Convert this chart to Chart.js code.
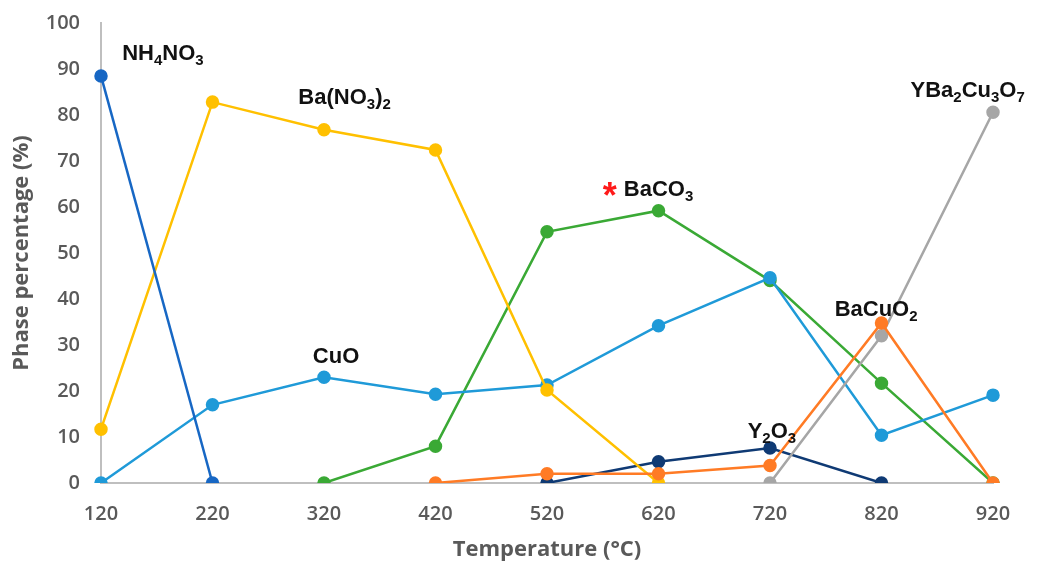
<!DOCTYPE html>
<html>
<head>
<meta charset="utf-8">
<script src="https://cdn.jsdelivr.net/npm/chart.js@4"></script>
<style>
  body { margin: 0; background: #fff; }
  #wrap { width: 1052px; height: 563px; }
</style>
</head>
<body>
<div id="wrap"><canvas id="phaseChart" width="1052" height="563"></canvas></div>
<script>
// temperatures (°C)
const temps = ['120', '220', '320', '420', '520', '620', '720', '820', '920'];
const yTicks = [0, 10, 20, 30, 40, 50, 60, 70, 80, 90, 100];

// phase percentages (%), null = phase not present
const nh4no3   = [88.5, 0, null, null, null, null, null, null, null];
const bano32   = [11.7, 82.8, 76.8, 72.4, 20.2, 0, null, null, null];
const cuo      = [0, 17, 23, 19.3, 21.3, 34.2, 44.6, 10.4, 19.1];
const baco3    = [null, null, 0, 8, 54.6, 59.2, 44, 21.7, 0];
const bacuo2   = [null, null, null, 0, 2, 2, 3.8, 34.8, 0];
const y2o3     = [null, null, null, null, 0, 4.6, 7.6, 0, null];
const ybco     = [null, null, null, null, null, null, 0, 32, 80.6];

// phase labels: text parts [string, subscript?], anchored at (temperature, percent)
const phaseLabels = [
  { parts: [['NH', 0], ['4', 1], ['NO', 0], ['3', 1]], t: 139, p: 92 },
  { parts: [['Ba(NO', 0], ['3', 1], [')', 0], ['2', 1]], t: 297, p: 82.4 },
  { parts: [['CuO', 0]], t: 310, p: 26 },
  { parts: [['BaCO', 0], ['3', 1]], t: 570, p: 62.5, star: true },
  { parts: [['BaCuO', 0], ['2', 1]], t: 778, p: 36.3 },
  { parts: [['Y', 0], ['2', 1], ['O', 0], ['3', 1]], t: 700, p: 9.8 },
  { parts: [['YBa', 0], ['2', 1], ['Cu', 0], ['3', 1], ['O', 0], ['7', 1]], t: 846, p: 84 }
];

function series(label, data, color) {
  return {
    label, data,
    borderColor: color, backgroundColor: color,
    pointBackgroundColor: color, pointBorderColor: color,
    borderWidth: 2.5, pointRadius: 5.5, pointHoverRadius: 5.5,
    tension: 0, spanGaps: false
  };
}

const labelPlugin = {
  id: 'phaseLabels',
  afterDatasetsDraw(chart) {
    const ctx = chart.ctx;
    const xs = chart.scales.x, ys = chart.scales.y;
    const big = 'bold 22px "Liberation Sans", Arial, sans-serif';
    const small = 'bold 15px "Liberation Sans", Arial, sans-serif';
    ctx.save();
    ctx.fillStyle = '#111';
    ctx.textBaseline = 'alphabetic';
    ctx.textAlign = 'left';
    phaseLabels.forEach(l => {
      let x = xs.getPixelForValue((l.t - 120) / 100);
      const y = ys.getPixelForValue(l.p);
      if (l.star) {
        ctx.fillStyle = '#ff1a1a';
        ctx.font = 'bold 36px "Liberation Sans", Arial, sans-serif';
        ctx.fillText('*', x, y + 12);
        x += ctx.measureText('*').width + 7;
        ctx.fillStyle = '#111';
      }
      l.parts.forEach(([s, sub]) => {
        ctx.font = sub ? small : big;
        ctx.fillText(s, x, sub ? y + 5 : y);
        x += ctx.measureText(s).width;
      });
    });
    ctx.restore();
  }
};

const tickFont = { family: '"Open Sans", "Liberation Sans", sans-serif', size: 20, weight: '600' };
const titleFont = { family: '"Open Sans", "Liberation Sans", sans-serif', size: 22, weight: 'bold' };

new Chart(document.getElementById('phaseChart').getContext('2d'), {
  type: 'line',
  data: {
    labels: temps,
    datasets: [
      series('NH4NO3', nh4no3, '#1767c4'),
      series('BaCuO2', bacuo2, '#ff7b25'),
      series('YBa2Cu3O7', ybco, '#a6a6a6'),
      series('Ba(NO3)2', bano32, '#ffc000'),
      series('CuO', cuo, '#1f9ad8'),
      series('Y2O3', y2o3, '#0f3a74'),
      series('BaCO3', baco3, '#3aa935')
    ]
  },
  options: {
    responsive: false,
    animation: false,
    layout: { padding: { top: 23, right: 59, left: 0, bottom: 0 } },
    plugins: { legend: { display: false }, tooltip: { enabled: false } },
    scales: {
      x: {
        offset: false,
        grid: { display: false, drawTicks: false },
        border: { display: true, color: '#bfbfbf', width: 2 },
        ticks: { color: '#595959', font: tickFont, padding: 19, maxRotation: 0 },
        title: { display: true, text: 'Temperature (°C)', color: '#595959', font: titleFont, padding: { top: 0, bottom: 0 } },
        afterFit: s => { s.height = 80; }
      },
      y: {
        min: 0, max: 100,
        afterBuildTicks: s => { s.ticks = yTicks.map(v => ({ value: v })); },
        grid: { display: false, drawTicks: false },
        border: { display: true, color: '#bfbfbf', width: 2 },
        ticks: { color: '#595959', font: tickFont, padding: 21 },
        title: { display: true, text: 'Phase percentage (%)', color: '#595959', font: titleFont, padding: { top: 9, bottom: 0 } },
        afterFit: s => { s.width = 101; s.paddingTop = 0; s.paddingBottom = 0; }
      }
    }
  },
  plugins: [labelPlugin]
});
</script>
</body>
</html>
